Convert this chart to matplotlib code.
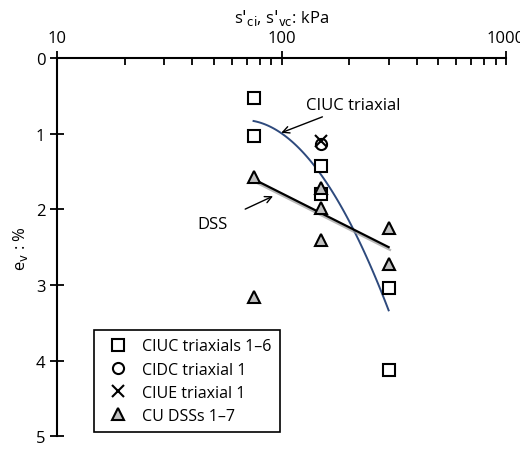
import numpy as np
import matplotlib.pyplot as plt
import matplotlib.patheffects as pe

plt.rcParams['font.family'] = ['Open Sans', 'DejaVu Sans']
plt.rcParams['font.size'] = 12

# data
sq_x = [75, 75, 150, 150, 300, 300]
sq_y = [0.52, 1.03, 1.42, 1.80, 3.04, 4.13]
circ_x = [150]
circ_y = [1.14]
cross_x = [150]
cross_y = [1.10]
tri_x = [75, 75, 150, 150, 150, 300, 300]
tri_y = [1.57, 3.16, 1.72, 1.98, 2.40, 2.25, 2.72]

ciuc_x = [75, 100, 125, 150, 175, 200, 225, 250, 275, 300]
ciuc_y = [0.80, 1.03, 1.28, 1.55, 1.84, 2.13, 2.43, 2.74, 3.05, 3.38]
dss_x = [75, 300]
dss_y = [1.60, 2.50]

fig = plt.figure(figsize=(5.2, 4.52), dpi=100)
ax = fig.add_axes([0.11, 0.033, 0.863, 0.836])
ax.set_xscale('log')
ax.set_xlim(10, 1000)
ax.set_ylim(5, 0)

# smooth the CIUC trend through its read-off points
fit = np.polyfit(np.log10(ciuc_x), ciuc_y, 2)
xs = np.logspace(np.log10(ciuc_x[0]), np.log10(ciuc_x[-1]), 100)
ax.plot(xs, np.polyval(fit, np.log10(xs)), color='#2e4a7d', lw=1.4)
ax.plot(dss_x, dss_y, color='black', lw=1.6,
        path_effects=[pe.SimpleLineShadow(offset=(1, -2), shadow_color='#999999', alpha=0.7), pe.Normal()])

ms = 8
ax.plot(sq_x, sq_y, 's', mfc='white', mec='black', mew=1.5, ms=ms, label='CIUC triaxials 1\u20136')
ax.plot(circ_x, circ_y, 'o', mfc='none', mec='black', mew=1.5, ms=ms, label='CIDC triaxial 1')
ax.plot(cross_x, cross_y, 'x', color='black', mew=1.5, ms=ms, label='CIUE triaxial 1')
ax.plot(tri_x, tri_y, '^', mfc='#c0c0c0', mec='black', mew=1.5, ms=ms, label='CU DSSs 1\u20137')

ax.annotate('CIUC triaxial', xy=(97, 1.0), xytext=(128, 0.62), va='center',
            arrowprops=dict(arrowstyle='->', color='black', lw=1))
ax.annotate('DSS', xy=(94, 1.81), xytext=(42, 2.2), va='center',
            arrowprops=dict(arrowstyle='->', color='black', lw=1, shrinkA=12))

ax.xaxis.tick_top()
ax.xaxis.set_label_position('top')
ax.set_xlabel("s$'_{\\rm ci}$, s$'_{\\rm vc}$: kPa", labelpad=6)
ax.set_ylabel('e$_{\\rm v}$ : %')
ax.set_xticks([10, 100, 1000])
ax.set_xticklabels(['10', '100', '1000'])
ax.get_xticklabels()[-1].set_horizontalalignment('right')
ax.set_yticks([0, 1, 2, 3, 4, 5])
ax.tick_params(which='major', direction='inout', length=10, width=1.3)
ax.tick_params(which='minor', direction='in', length=5, width=1.3)
ax.tick_params(axis='x', which='minor', labeltop=False)
for s in ['bottom', 'right']:
    ax.spines[s].set_visible(False)
for s in ['top', 'left']:
    ax.spines[s].set_linewidth(1.5)

leg = ax.legend(loc='lower left', bbox_to_anchor=(0.065, -0.01), fancybox=False,
                edgecolor='black', framealpha=1, handletextpad=0.5, borderpad=0.5,
                labelspacing=0.45, fontsize=11.5)
leg.get_frame().set_linewidth(1.2)

fig.canvas.draw()
lab = ax.get_xticklabels()[-1]
lab.set_horizontalalignment('center')
lab.set_x(1000)
fig.savefig('out.png')
